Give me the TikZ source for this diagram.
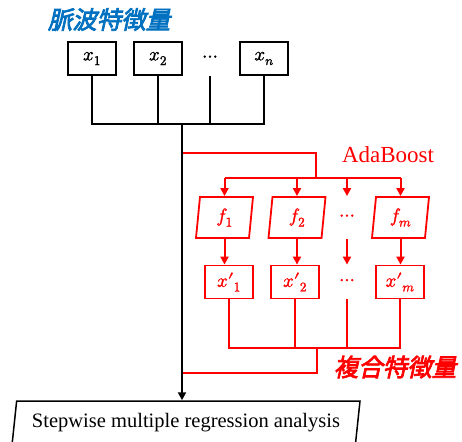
\documentclass[tikz,border=0pt]{standalone}
\usepackage{fontspec}
\usepackage{unicode-math}
\setmainfont{Liberation Serif}
\setmathfont{Latin Modern Math}[FakeBold=1.5]
\newfontfamily\cjk[FakeBold=3,FakeSlant=0.22]{Noto Sans CJK JP}
\usetikzlibrary{shapes.geometric,arrows.meta}
\definecolor{titleblue}{RGB}{0,112,192}

\begin{document}
\begin{tikzpicture}[x=1pt,y=-1pt,
  featbox/.style={draw,line width=1.5pt,minimum width=48pt,minimum height=33pt,
    inner sep=0pt,font=\fontsize{19}{19}\selectfont},
  redbox/.style={featbox,draw=red,text=red,line width=1.8pt},
  learner/.style={trapezium,trapezium left angle=77.6,trapezium right angle=102.4,
    trapezium stretches body,draw=red,text=red,line width=1.8pt,
    minimum width=57pt,minimum height=41pt,inner sep=0pt,font=\fontsize{19}{19}\selectfont},
  blk/.style={line width=1.5pt},
  redline/.style={red,line width=2pt},
  tip/.style={-{Triangle[width=8pt,length=8pt]}},
  jplabel/.style={font=\cjk\fontsize{24.5}{24.5}\selectfont},
]
\useasboundingbox (0,0) rectangle (462,441);

% input features
\node[jplabel,text=titleblue] (title) at (109,19.5) {脈波特徴量};
\node[featbox] (x1) at (92,58.5) {$x_1$};
\node[featbox] (x2) at (158,58.5) {$x_2$};
\node[featbox,draw=none] (xd) at (210,58.5) {$\cdots$};
\node[featbox] (xn) at (264,58.5) {$x_n$};
\coordinate (bus) at (182,124);

% final analysis step
\node[trapezium,trapezium left angle=76,trapezium right angle=104,
  trapezium stretches body,draw,line width=1.5pt,minimum width=348pt,
  minimum height=44pt,inner sep=0pt,font=\fontsize{20.5}{20.5}\selectfont]
  (final) at (186,423) {Stepwise multiple regression analysis};

% AdaBoost branch
\coordinate (tap1) at (182,153);
\coordinate (split) at (316,178);
\node[text=red,font=\fontsize{23}{23}\selectfont] (ada) at (388,155) {AdaBoost};
\node[learner] (f1) at (224.5,217.5) {$f_1$};
\node[learner] (f2) at (297,217.5) {$f_2$};
\node[learner,draw=none] (fd) at (347,217.5) {$\cdots$};
\node[learner] (fm) at (400.5,217.5) {$f_m$};
\node[redbox] (p1) at (229,282) {$x\mathord{\prime}_1$};
\node[redbox] (p2) at (295,282) {$x\mathord{\prime}_2$};
\node[redbox,draw=none] (pd) at (347,282) {$\cdots$};
\node[redbox] (pm) at (400,282) {$x\mathord{\prime}_m$};
\coordinate (join) at (317,348);
\coordinate (tap2) at (182,373);
\node[jplabel,text=red] (combo) at (395,367) {複合特徴量};

\draw[redline] (tap1) -| (split);
\draw[redline] (f1.north |- split) -- (fm.north |- split);
\foreach \n in {f1,f2,fd,fm}
  \draw[redline,tip] (\n.north |- split) -- (\n.north);
\foreach \a/\b in {f1/p1,f2/p2,fd/pd,fm/pm}
  \draw[redline,tip] (\a.south) -- (\a.south |- \b.north);
\draw[redline] (p1.south) |- (join) -| (pm.south);
\draw[redline] (p2.south) -- (p2.south |- join);
\draw[redline] (pd.south) -- (pd.south |- join);
\draw[redline] (join) |- (tap2);

% input bus and main trunk
\draw[blk] (x1.south) |- (bus) -| (xn.south);
\draw[blk] (x2.south) -- (x2.south |- bus);
\draw[blk] (xd.south) -- (xd.south |- bus);
\draw[line width=2.8pt,tip] (bus) -- (bus |- final.north);
\end{tikzpicture}
\end{document}
